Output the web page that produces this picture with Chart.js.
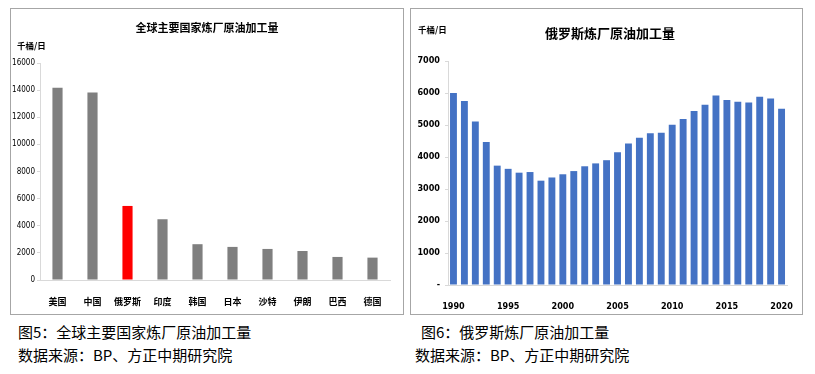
<!DOCTYPE html>
<html>
<head>
<meta charset="utf-8">
<script src="https://cdn.jsdelivr.net/npm/chart.js@4.4.1/dist/chart.umd.min.js"></script>
<style>
  body { margin: 0; background: #fff; width: 815px; height: 374px; position: relative; overflow: hidden; }
  .panel { position: absolute; border: 1px solid #a6a6a6; box-sizing: border-box; }
  canvas { position: absolute; }
  .cap { position: absolute; font-family: "Noto Sans CJK SC", sans-serif; font-size: 15px; color: #000; white-space: nowrap; line-height: 18px; }
</style>
</head>
<body>
<div class="panel" style="left:10px;top:8px;width:394px;height:307px;"></div>
<div class="panel" style="left:410px;top:8px;width:393px;height:307px;"></div>
<canvas id="c1" width="391" height="305" style="left:11px;top:9px;"></canvas>
<canvas id="c2" width="390" height="305" style="left:411px;top:9px;"></canvas>
<div class="cap" style="left:18px;top:323px;">图5：全球主要国家炼厂原油加工量</div>
<div class="cap" style="left:18px;top:346px;">数据来源：BP、方正中期研究院</div>
<div class="cap" style="left:421px;top:323px;">图6：俄罗斯炼厂原油加工量</div>
<div class="cap" style="left:415px;top:346px;">数据来源：BP、方正中期研究院</div>
<script>
// 全球主要国家
const countries = ['美国', '中国', '俄罗斯', '印度', '韩国', '日本', '沙特', '伊朗', '巴西', '德国'];
const countryValues = [14180, 13820, 5460, 4480, 2640, 2440, 2290, 2140, 1700, 1650];

// 俄罗斯 1990-2020
const years = ['1990', '1991', '1992', '1993', '1994', '1995', '1996', '1997', '1998', '1999', '2000',
    '2001', '2002', '2003', '2004', '2005', '2006', '2007', '2008', '2009', '2010',
    '2011', '2012', '2013', '2014', '2015', '2016', '2017', '2018', '2019', '2020'];
const russiaValues = [6000, 5750, 5110, 4470, 3730, 3630, 3510, 3530, 3260, 3360, 3460,
    3560, 3710, 3800, 3900, 4150, 4420, 4600, 4740, 4760, 5010,
    5190, 5440, 5630, 5920, 5780, 5730, 5700, 5880, 5830, 5510];

const leftTicks = { min: 0, max: 16000, step: 2000 };
const rightTicks = { min: 0, max: 7000, step: 1000 };
const unitText = '千桶/日';

const numFont = "'Liberation Sans Narrow', 'DejaVu Sans Condensed', sans-serif";
const cjkFont = "'Noto Sans CJK SC', sans-serif";

// 标题和单位
function textPlugin(title, titleFont, tx, ty, ux, uy) {
    return {
        id: 'texts',
        afterDraw(chart) {
            const ctx = chart.ctx;
            ctx.save();
            ctx.fillStyle = '#000';
            ctx.textBaseline = 'middle';
            ctx.textAlign = 'center';
            ctx.font = titleFont;
            ctx.fillText(title, tx, ty);
            ctx.textAlign = 'left';
            ctx.font = 'bold 8.5px ' + cjkFont;
            ctx.fillText(unitText, ux, uy);
            ctx.restore();
        }
    };
}

new Chart(document.getElementById('c1'), {
    type: 'bar',
    data: {
        labels: countries,
        datasets: [{
            data: countryValues,
            backgroundColor: ctx => countries[ctx.dataIndex] === '俄罗斯' ? '#ff0000' : '#7f7f7f',
            categoryPercentage: 1,
            barPercentage: 0.29
        }]
    },
    options: {
        responsive: false,
        animation: false,
        devicePixelRatio: 1,
        layout: { padding: { top: 54, right: 12, left: 0, bottom: 0 } },
        plugins: { legend: { display: false }, tooltip: { enabled: false } },
        scales: {
            x: {
                afterFit: s => { s.height = 34; },
                grid: { display: false },
                border: { color: '#d9d9d9' },
                ticks: { color: '#000', padding: 8, maxRotation: 0, font: { family: cjkFont, size: 9, weight: 'bold' } }
            },
            y: {
                min: leftTicks.min,
                max: leftTicks.max,
                afterFit: s => { s.width = 29; },
                grid: { drawOnChartArea: false, tickLength: 3, color: '#d9d9d9' },
                border: { color: '#d9d9d9' },
                ticks: {
                    stepSize: leftTicks.step, color: '#000', padding: 2,
                    font: { family: numFont, size: 8 },
                    callback: v => String(v)
                }
            }
        }
    },
    plugins: [textPlugin('全球主要国家炼厂原油加工量', 'bold 11px ' + cjkFont, 196, 19, 6, 37)]
});

new Chart(document.getElementById('c2'), {
    type: 'bar',
    data: {
        labels: years,
        datasets: [{
            data: russiaValues,
            backgroundColor: '#4472c4',
            categoryPercentage: 1,
            barPercentage: 0.63
        }]
    },
    options: {
        responsive: false,
        animation: false,
        devicePixelRatio: 1,
        layout: { padding: { top: 52, right: 10, left: 0, bottom: 0 } },
        plugins: { legend: { display: false }, tooltip: { enabled: false } },
        scales: {
            x: {
                afterFit: s => { s.height = 29; },
                grid: { display: false },
                border: { color: '#d9d9d9' },
                ticks: {
                    autoSkip: false, maxRotation: 0, color: '#000', padding: 8,
                    font: { family: numFont, size: 9, weight: 'bold' },
                    callback: function (v) {
                        const y = this.getLabelForValue(v);
                        return Number(y) % 5 === 0 ? y : '';
                    }
                }
            },
            y: {
                min: rightTicks.min,
                max: rightTicks.max,
                afterFit: s => { s.width = 37; },
                grid: { drawOnChartArea: false, tickLength: 3, color: '#d9d9d9' },
                border: { color: '#d9d9d9' },
                ticks: {
                    stepSize: rightTicks.step, color: '#000', padding: 5,
                    font: { family: numFont, size: 9, weight: 'bold' },
                    callback: v => v === 0 ? '-' : String(v)
                }
            }
        }
    },
    plugins: [textPlugin('俄罗斯炼厂原油加工量', 'bold 13px ' + cjkFont, 199, 24, 7, 21)]
});
</script>
</body>
</html>
